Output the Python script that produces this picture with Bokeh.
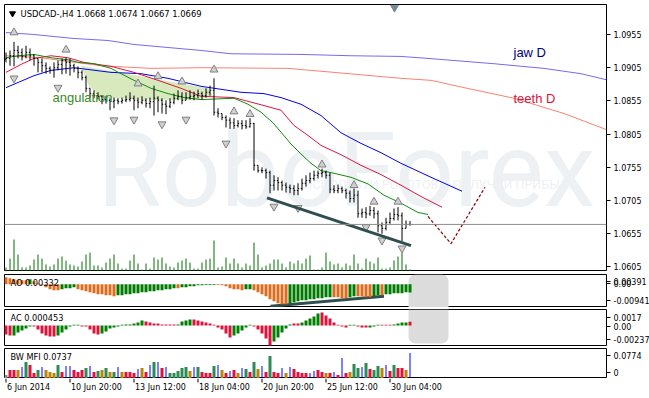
from bokeh.plotting import figure
from bokeh.layouts import column
from bokeh.models import (Range1d, FixedTicker, Label, BoxAnnotation, Span,
                          ColumnDataSource, PrintfTickFormatter)
from bokeh.core.properties import value
from bokeh.embed import file_html
from bokeh.resources import INLINE

FONT = "DejaVu Sans"

# ---------------- data (bar index 0..101, H4 bars) ----------------
bar_idx = list(range(102))
high = [1.0928,1.0931,1.0944,1.0938,1.0934,1.0938,1.0934,1.0925,1.0919,1.0919,
        1.0913,1.0907,1.0913,1.0916,1.0919,1.0920,1.0919,1.0911,1.0907,1.0901,
        1.0893,1.0874,1.0871,1.0868,1.0863,1.0862,1.0859,1.0860,1.0859,1.0860,
        1.0863,1.0868,1.0863,1.0860,1.0862,1.0859,1.0860,1.0878,1.0862,1.0859,
        1.0856,1.0859,1.0866,1.0871,1.0868,1.0868,1.0871,1.0869,1.0872,1.0869,
        1.0874,1.0878,1.0889,1.0844,1.0836,1.0833,1.0830,1.0829,1.0826,1.0826,
        1.0826,1.0829,1.0822,1.0758,1.0755,1.0753,1.0750,1.0743,1.0740,1.0735,
        1.0732,1.0729,1.0728,1.0731,1.0738,1.0743,1.0747,1.0750,1.0750,1.0753,
        1.0750,1.0747,1.0728,1.0729,1.0726,1.0723,1.0720,1.0723,1.0720,1.0693,
        1.0695,1.0697,1.0695,1.0690,1.0672,1.0679,1.0687,1.0693,1.0695,1.0687,
        1.0675,1.0674]
low = [1.0913,1.0908,1.0907,1.0919,1.0916,1.0919,1.0916,1.0908,1.0898,1.0898,
       1.0896,1.0896,1.0890,1.0901,1.0895,1.0896,1.0893,1.0898,1.0889,1.0886,
       1.0868,1.0860,1.0859,1.0857,1.0850,1.0851,1.0841,1.0844,1.0850,1.0851,
       1.0853,1.0854,1.0841,1.0844,1.0850,1.0845,1.0844,1.0833,1.0838,1.0836,
       1.0835,1.0844,1.0850,1.0856,1.0850,1.0856,1.0857,1.0856,1.0859,1.0857,
       1.0860,1.0863,1.0833,1.0830,1.0826,1.0815,1.0813,1.0813,1.0815,1.0812,
       1.0813,1.0815,1.0750,1.0747,1.0746,1.0738,1.0716,1.0720,1.0720,1.0720,
       1.0717,1.0716,1.0713,1.0713,1.0720,1.0726,1.0731,1.0735,1.0738,1.0740,
       1.0738,1.0716,1.0716,1.0716,1.0716,1.0708,1.0702,1.0702,1.0679,1.0679,
       1.0678,1.0682,1.0678,1.0657,1.0655,1.0660,1.0670,1.0675,1.0675,1.0643,
       1.0663,1.0667]
close = [1.0919,1.0923,1.0931,1.0928,1.0922,1.0928,1.0923,1.0919,1.0913,1.0908,
         1.0904,1.0901,1.0905,1.0910,1.0916,1.0913,1.0908,1.0904,1.0898,1.0890,
         1.0874,1.0866,1.0863,1.0862,1.0857,1.0856,1.0854,1.0856,1.0854,1.0856,
         1.0857,1.0859,1.0856,1.0853,1.0856,1.0851,1.0854,1.0859,1.0856,1.0850,
         1.0847,1.0853,1.0859,1.0862,1.0856,1.0860,1.0862,1.0863,1.0866,1.0863,
         1.0868,1.0871,1.0838,1.0836,1.0830,1.0826,1.0822,1.0818,1.0821,1.0818,
         1.0816,1.0821,1.0758,1.0750,1.0750,1.0747,1.0728,1.0735,1.0732,1.0728,
         1.0725,1.0723,1.0720,1.0723,1.0731,1.0735,1.0738,1.0743,1.0746,1.0747,
         1.0743,1.0722,1.0720,1.0723,1.0720,1.0716,1.0708,1.0713,1.0685,1.0687,
         1.0685,1.0690,1.0685,1.0667,1.0663,1.0672,1.0678,1.0684,1.0682,1.0663,
         1.0669,1.0669]
open_ = [1.0918] + close[:-1]
volume = [4,13,32,17,4,4,6,12,17,13,7,5,7,13,15,11,7,6,5,10,17,19,6,6,4,9,13,17,8,3,
          3,11,17,8,2,8,3,14,12,14,8,5,4,9,11,13,9,3,3,9,12,13,31,4,5,14,8,13,8,4,
          8,6,29,17,4,6,8,12,12,8,4,10,8,11,8,13,16,2,2,4,19,10,7,8,4,8,6,17,8,3,
          13,10,8,14,3,3,4,11,15,19,7,2]

# Alligator H4 (jaw / teeth / lips) read as points (bar index, price)
jaw_x = [0,7,11.25,17,26.25,33.75,40.5,48.75,58.75,64.5,68.75,73.75,78.75,83.75,88.75,93.75,98.75,106.25,114]
jaw_y = [1.0875,1.0893,1.0901,1.0905,1.0898,1.0896,1.0889,1.0877,1.0868,1.0866,1.0860,1.0850,1.0833,1.0807,1.0791,1.0777,1.0761,1.0740,1.0719]
teeth_x = [0,3.75,7,11.25,15.5,19.5,26.25,32,38,43.75,48.75,57,64.5,68.75,72,75.5,78.75,83.75,88.75,93.75,98.75,103.75,109]
teeth_y = [1.0898,1.0910,1.0919,1.0923,1.0920,1.0913,1.0907,1.0898,1.0886,1.0874,1.0862,1.0860,1.0848,1.0841,1.0818,1.0803,1.0788,1.0774,1.0758,1.0744,1.0728,1.0711,1.0695]
lips_x = [0,3,7,11.25,15.5,18,22,26.25,28.75,32,36.25,40.5,44.5,48.75,57,60.5,63.75,66.75,68.75,71.25,73.75,76.25,78.75,82,86.25,90.5,94.5,98.75,103,105.5]
lips_y = [1.0920,1.0923,1.0925,1.0920,1.0917,1.0913,1.0911,1.0904,1.0896,1.0886,1.0874,1.0866,1.0860,1.0857,1.0859,1.0850,1.0838,1.0822,1.0808,1.0790,1.0775,1.0761,1.0750,1.0746,1.0740,1.0730,1.0713,1.0701,1.0687,1.0684]
# Alligator D1 (jaw D / teeth D)
jawD_x = [0,7,17,25.5,32,48.75,56.25,73.75,86.25,98.75,105.5,122,134.5,143.75,150]
jawD_y = [1.0958,1.0955,1.0949,1.0946,1.0940,1.0931,1.0926,1.0925,1.0923,1.0922,1.0919,1.0911,1.0904,1.0896,1.0887]
teethD_x = [0,8.75,23.75,36.25,48.75,70.5,82,98.75,106.25,114.5,127,139.5,150]
teethD_y = [1.0923,1.0920,1.0908,1.0904,1.0905,1.0904,1.0898,1.0889,1.0886,1.0875,1.0859,1.0836,1.0812]
# forecast (dashed) and support trend line
fc_x = [105.5,111.25,119.75]
fc_y = [1.0681,1.0640,1.0725]
tl_x = [65.25,101.25]
tl_y = [1.0709,1.0637]
# angulation zone
ang_x = [18.75,33.75,50.5,51.75,46.5,33.75,23.75,20.75]
ang_y = [1.0908,1.0892,1.0874,1.0862,1.0856,1.0857,1.0860,1.0877]
# fractals
fup_x = [2,15,33,38,44,52,57,61,79,87,92,98]
fup_y = [1.0958,1.0932,1.0881,1.0892,1.0884,1.0902,1.0839,1.0835,1.0759,1.0728,1.0703,1.0703]
fdn_x = [2,13,27,32,39,45,55,67,73,90,94,99]
fdn_y = [1.0889,1.0875,1.0826,1.0827,1.0820,1.0827,1.0791,1.0696,1.0694,1.0665,1.0645,1.0633]
last_price = 1.0669
price_ticks = [1.0605,1.0655,1.0705,1.0755,1.0805,1.0855,1.0905,1.0955]

# Awesome oscillator
ao = [0.00283,0.00242,0.00202,0.00162,0.00162,0.00162,0.00202,0.00121,0.00040,-0.00040,
      -0.00121,-0.00202,-0.00242,-0.00242,-0.00202,-0.00162,-0.00162,-0.00121,-0.00202,-0.00242,
      -0.00283,-0.00323,-0.00364,-0.00404,-0.00404,-0.00444,-0.00444,-0.00485,-0.00444,-0.00444,
      -0.00404,-0.00404,-0.00364,-0.00364,-0.00323,-0.00323,-0.00283,-0.00283,-0.00242,-0.00242,
      -0.00202,-0.00202,-0.00162,-0.00162,-0.00121,-0.00121,-0.00081,-0.00081,-0.00040,-0.00040,
      -0.00030,-0.00030,-0.00030,-0.00030,-0.00040,-0.00081,-0.00162,-0.00202,-0.00202,-0.00242,
      -0.00202,-0.00202,-0.00242,-0.00323,-0.00404,-0.00485,-0.00606,-0.00687,-0.00768,-0.00808,
      -0.00808,-0.00768,-0.00727,-0.00687,-0.00646,-0.00646,-0.00606,-0.00606,-0.00566,-0.00566,
      -0.00525,-0.00525,-0.00525,-0.00525,-0.00566,-0.00566,-0.00525,-0.00485,-0.00485,-0.00485,
      -0.00525,-0.00525,-0.00485,-0.00444,-0.00444,-0.00404,-0.00404,-0.00364,-0.00364,-0.00364,
      -0.00323,-0.00332]
ao_dir = list("".join(["oooooogooo", "ooooggggoo", "oooooooogg", "gggggggggg", "gggogggggg",
                       "gggooooooo", "ggoooooooo", "oggggggggg", "ggooooggoo", "ooggoggggg", "gg"]))
ao_tl_x = [66.1, 94.5]
ao_tl_y = [-0.00889, -0.00485]
# Accelerator oscillator
ac = [-0.00106,-0.00118,-0.00118,-0.00083,-0.00059,-0.00035,-0.00012,-0.00012,-0.00047,-0.00094,
      -0.00118,-0.00130,-0.00130,-0.00118,-0.00083,-0.00047,-0.00012,0.00010,0.00010,-0.00012,
      -0.00012,-0.00047,-0.00094,-0.00106,-0.00094,-0.00071,-0.00035,-0.00024,-0.00012,0.00010,
      0.00012,0.00012,0.00024,0.00035,0.00059,0.00047,0.00035,0.00024,0.00024,0.00012,
      0.00012,0.00012,0.00012,0.00012,0.00047,0.00059,0.00071,0.00071,0.00059,0.00047,
      0.00035,0.00024,0.00010,-0.00024,-0.00047,-0.00094,-0.00142,-0.00118,-0.00094,-0.00059,
      -0.00024,0.00010,-0.00012,-0.00047,-0.00094,-0.00153,-0.00236,-0.00189,-0.00142,-0.00083,
      -0.00035,0.00012,0.00024,0.00024,0.00035,0.00059,0.00083,0.00106,0.00142,0.00153,
      0.00118,0.00083,0.00035,0.00010,-0.00012,-0.00024,0.00010,0.00010,-0.00012,-0.00024,
      -0.00024,-0.00024,-0.00012,0.00010,0.00010,0.00010,0.00010,0.00012,0.00024,0.00035,
      0.00035,0.000453]
ac_dir = list("".join(["rrgggggrrr", "rrrggggggr", "rrrrgggggg", "gggggrrrrr", "rrrggggrrr",
                       "rrrrrrrggg", "ggrrrrrggg", "ggrrgggggr", "rrrrrrggrr", "rgggrrrggg", "gr"]))
# Market facilitation index
bw = [0.0089,0.0236,0.0236,0.0236,0.0325,0.0472,0.0384,0.0148,0.0236,0.0325,
      0.0236,0.0177,0.0148,0.0384,0.0177,0.0354,0.0354,0.0236,0.0177,0.0236,
      0.0295,0.0354,0.0177,0.0207,0.0236,0.0295,0.0177,0.0177,0.0325,0.0177,
      0.0177,0.0177,0.0148,0.0266,0.0295,0.0177,0.0384,0.0472,0.0472,0.0295,
      0.0325,0.0148,0.0148,0.0207,0.0295,0.0325,0.0207,0.0325,0.0325,0.0177,
      0.0148,0.0148,0.0354,0.0384,0.0236,0.0148,0.0207,0.0236,0.0148,0.0295,
      0.0266,0.0177,0.0472,0.0266,0.0354,0.0177,0.0649,0.0177,0.0148,0.0295,
      0.0148,0.0325,0.0266,0.0177,0.0148,0.0148,0.0148,0.0207,0.0236,0.0177,
      0.0148,0.0148,0.0177,0.0089,0.0590,0.0148,0.0177,0.0413,0.0295,0.0325,
      0.0443,0.0266,0.0236,0.0354,0.0295,0.0384,0.0207,0.0384,0.0295,0.0295,
      0.0236,0.0737]
bw_kind = list("".join(["krrybgrrgb", "yyygrbbrrr", "gbrgygygby", "rrrbyrbgbr", "bgggggybgr",
                        "rrgbyrbryb", "grgybrgrrb", "ybrrrrbbrr", "yrbrbryggb", "grggybrgrr", "yb"]))

date_idx = [0,16,32,48,64,80,96]
date_labels = ["6 Jun 2014","10 Jun 20:00","13 Jun 12:00","18 Jun 04:00",
               "20 Jun 20:00","25 Jun 12:00","30 Jun 04:00"]

# ---------------- styling helpers ----------------
AO_COL = {"o": "#dc6d1e", "g": "#007a00"}
AC_COL = {"r": "#dc143c", "g": "#008000"}
BW_COL = {"g": "#2e8b57", "r": "#dc143c", "y": "#b8860b", "b": "#0000ff", "k": "#8a8a8a"}

xr = Range1d(-0.375, 150.125)


def make_fig(frame_h, top_border, yr):
    p = figure(frame_width=602, frame_height=frame_h, min_border_left=4,
               min_border_right=43, min_border_top=top_border, min_border_bottom=0,
               x_range=xr, y_range=yr, output_backend="svg", toolbar_location=None,
               x_axis_location=None, y_axis_location="right")
    p.grid.visible = False
    p.outline_line_color = "black"
    p.outline_line_width = 1
    p.background_fill_color = "white"
    p.border_fill_color = "white"
    ax = p.yaxis[0]
    ax.axis_line_color = None
    ax.major_tick_out = 4
    ax.major_tick_in = 0
    ax.major_tick_line_color = "black"
    ax.minor_tick_line_color = None
    ax.major_label_text_font = FONT
    ax.major_label_text_font_size = "8px"
    ax.major_label_text_color = "black"
    ax.major_label_standoff = 3
    return p


# ---------------- main price panel ----------------
main = make_fig(267, 4, Range1d(1.05981, 1.10002))
main.yaxis[0].ticker = FixedTicker(ticks=price_ticks)
main.yaxis[0].formatter = PrintfTickFormatter(format="%.4f")
main.extra_y_ranges = {"vol": Range1d(0, 267)}

main.add_layout(Label(x=22.875, y=1.0750, text="RoboForex", text_font="Roboto",
                      text_font_size="104px", text_color="#eef1f4", level="underlay",
                      text_baseline="alphabetic"))
main.add_layout(Label(x=74.375, y=1.0729, text="ИСПОЛЬЗУЙ РОБОТОВ – ПОЛУЧАЙ ПРИБЫЛЬ",
                      text_font="Roboto", text_font_size="12.5px",
                      text_color="#eef1f4", level="underlay", text_baseline="middle"))

src = ColumnDataSource(dict(x=bar_idx, o=open_, h=high, l=low, c=close, v=volume))
main.segment(x0="x", y0=0, x1="x", y1="v", source=src, y_range_name="vol",
             line_color="#007000", line_width=1)
main.patch(ang_x, ang_y, fill_color="#d3e7b6", fill_alpha=0.9, line_color=None)
main.line(jawD_x, jawD_y, line_color="#7b68ee", line_width=1)
main.line(teethD_x, teethD_y, line_color="#fa8072", line_width=1)
main.line(jaw_x, jaw_y, line_color="#0000ee", line_width=1)
main.line(teeth_x, teeth_y, line_color="#dc143c", line_width=1)
main.line(lips_x, lips_y, line_color="#108c10", line_width=1)
main.add_layout(Span(location=last_price, dimension="width", line_color="#8c8c8c", line_width=1))

main.segment(x0="x", y0="l", x1="x", y1="h", source=src, line_color="black", line_width=1)
main.segment(x0=[i - 0.3 for i in bar_idx], y0=open_, x1=bar_idx, y1=open_, line_color="black", line_width=1)
main.segment(x0=bar_idx, y0=close, x1=[i + 0.3 for i in bar_idx], y1=close, line_color="black", line_width=1)

main.scatter(fup_x, fup_y, marker="triangle", size=8, fill_color="#d0d0d0", line_color="#808080")
main.scatter(fdn_x, fdn_y, marker="inverted_triangle", size=8, fill_color="#d0d0d0", line_color="#808080")
main.line(tl_x, tl_y, line_color="#2f4f4f", line_width=3)
main.line(fc_x, fc_y, line_color="#8b0000", line_width=1.2, line_dash="3 2")

main.add_layout(Label(x=11.625, y=1.0860, text="angulation", text_font="Liberation Sans",
                      text_font_size="13px", text_color="#3a8a28", text_baseline="middle"))
main.add_layout(Label(x=126.875, y=1.0928, text="jaw D", text_font="Liberation Sans",
                      text_font_size="13px", text_color="#00008b", text_baseline="middle"))
main.add_layout(Label(x=126.875, y=1.0859, text="teeth D", text_font="Liberation Sans",
                      text_font_size="13px", text_color="#dc143c", text_baseline="middle"))
main.add_layout(Label(x=3.625, y=1.09866, text="USDCAD-,H4  1.0668 1.0674 1.0667 1.0669",
                      text_font=FONT, text_font_size="8.4px", text_color="black",
                      text_baseline="middle"))
main.scatter([1.625], [1.09866], marker="inverted_triangle", size=6, fill_color="black", line_color="black")
main.scatter([97.125], [1.09957], marker="inverted_triangle", size=8, fill_color="#778899", line_color="#778899")
main.add_layout(Label(x=150.125, y=last_price, x_offset=4, text="1.0669", text_font=FONT,
                      text_font_size="8px", text_color="white", background_fill_color="black",
                      text_baseline="middle", padding=2))

# ---------------- AO panel ----------------
aof = make_fig(33, 3, Range1d(-0.00941, 0.00392))
aof.yaxis[0].ticker = FixedTicker(ticks=[0.0011, 0.0004, -0.00659])
aof.yaxis[0].major_label_overrides = {0.0011: "0.00391", 0.0004: "0.00", -0.00659: "-0.00941"}
aof.add_layout(BoxAnnotation(left=100.625, right=110.625, fill_color="#dcdcdc", fill_alpha=1,
                             line_color=None, border_radius=(7, 7, 0, 0), level="underlay"))
aof.line(ao_tl_x, ao_tl_y, line_color="#2f4f4f", line_width=3)
aof.vbar(x=bar_idx, top=ao, bottom=0, width=0.75, line_color=None,
         fill_color=[AO_COL[d] for d in ao_dir])
aof.add_layout(Label(x=1.125, y=0.0003, text="AO 0.00332", text_font=FONT,
                     text_font_size="8.2px", text_color="black", text_baseline="middle"))

# ---------------- AC panel ----------------
acf = make_fig(37, 2, Range1d(-0.00248, 0.00189))
acf.yaxis[0].ticker = FixedTicker(ticks=[0.00094, -0.00006, -0.00165])
acf.yaxis[0].major_label_overrides = {0.00094: "0.0017", -0.00006: "0.00", -0.00165: "-0.00237"}
acf.add_layout(BoxAnnotation(left=100.625, right=110.625, bottom=-0.00212, fill_color="#dcdcdc",
                             fill_alpha=1, line_color=None, border_radius=(0, 0, 7, 7),
                             level="underlay"))
acf.vbar(x=bar_idx, top=ac, bottom=0, width=0.75, line_color=None,
         fill_color=[AC_COL[d] for d in ac_dir])
acf.add_layout(Label(x=1.125, y=0.00083, text="AC 0.000453", text_font=FONT,
                     text_font_size="8.2px", text_color="black", text_baseline="middle"))

# ---------------- BW MFI panel ----------------
bwf = make_fig(30, 2, Range1d(-0.0015, 0.0870))
bwf.yaxis[0].ticker = FixedTicker(ticks=[0.0664, 0.0162])
bwf.yaxis[0].major_label_overrides = {0.0664: "0.0774", 0.0162: "0"}
bwf.vbar(x=bar_idx, top=bw, bottom=0, line_color=None,
         width=[0.25 if k == "b" else 0.75 for k in bw_kind],
         fill_color=[BW_COL[k] for k in bw_kind])
bwf.add_layout(Label(x=1.125, y=0.0605, text="BW MFI 0.0737", text_font=FONT,
                     text_font_size="8.2px", text_color="black", text_baseline="middle"))

# ---------------- date axis strip ----------------
dts = figure(frame_width=602, frame_height=16, min_border_left=4, min_border_right=43,
             min_border_top=0, min_border_bottom=4, x_range=xr, y_range=Range1d(0, 16),
             output_backend="svg", toolbar_location=None, x_axis_location=None,
             y_axis_location=None)
dts.grid.visible = False
dts.outline_line_color = None
dts.segment(x0=date_idx, y0=16, x1=date_idx, y1=12, line_color="black", line_width=1)
dts.text(x=date_idx, y=7, text=date_labels, text_align="left", text_baseline="middle",
         x_offset=1, text_font=value(FONT), text_font_size="8px", text_color="black")

layout = column(main, aof, acf, bwf, dts, spacing=0)
open("out.html", "w").write(file_html(layout, INLINE))
